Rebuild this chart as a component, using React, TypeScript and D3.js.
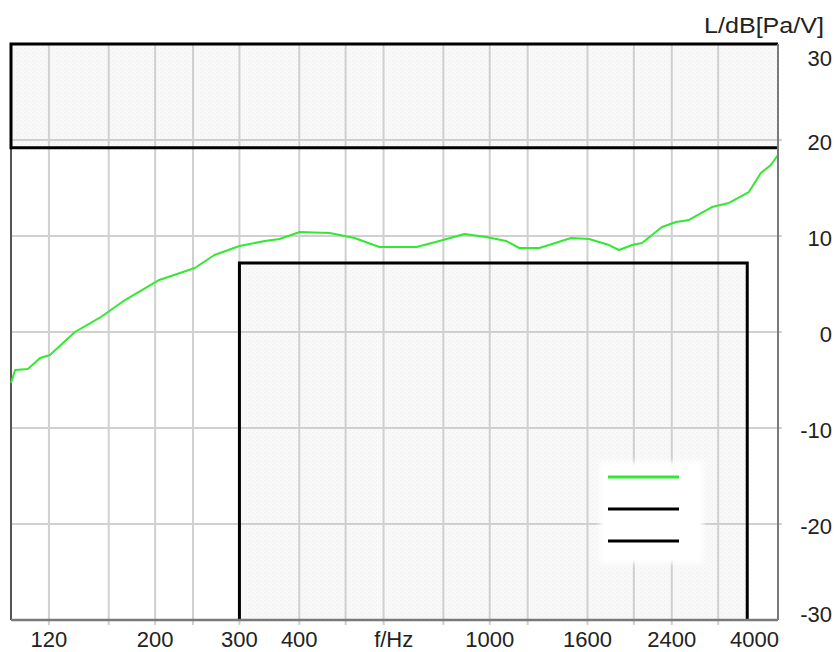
import React from "react";
import * as d3 from "d3";

// ---- data ----
const freqs = [100, 102, 108.5, 115, 120.6, 136, 153, 173, 204, 242, 266, 300, 339, 364, 401, 463, 522, 588, 648, 703, 785, 885, 983, 1082, 1152, 1269, 1479, 1612, 1775, 1862, 1983, 2080, 2289, 2449, 2607, 2911, 3159, 3477, 3683, 3865, 4000];
const levels = [-5.3, -3.96, -3.85, -2.7, -2.4, 0.0, 1.46, 3.33, 5.42, 6.67, 8.02, 8.96, 9.48, 9.69, 10.42, 10.31, 9.79, 8.85, 8.85, 8.85, 9.48, 10.21, 9.9, 9.48, 8.75, 8.75, 9.79, 9.69, 9.06, 8.54, 9.06, 9.27, 10.94, 11.46, 11.67, 13.02, 13.44, 14.58, 16.56, 17.4, 18.44];

const gridFreqs = [120, 160, 200, 240, 300, 400, 500, 600, 800, 1000, 1200, 1600, 2000, 2400, 3000];
const xTickFreqs = [120, 200, 300, 400, 1000, 1600, 2400];
const xTickLabels = ["120", "200", "300", "400", "1000", "1600", "2400"];
const xEndLabel = "4000";
const yTicks = [30, 20, 10, 0, -10, -20, -30];
const yUnit = "L/dB[Pa/V]";
const xUnit = "f/Hz";

// tolerance limits
const upperLimit = 19.2;
const lowerLimit = 7.2;
const lowerLimitFreqs = [300, 3450];

const legendColors = ["#33e833", "#000000", "#000000"];

const W = 836;
const H = 652;
const left = 11;
const right = 778;
const top = 44;
const bottom = 620;

export default function App() {
  const x = d3.scaleLog().domain([100, 4000]).range([left, right]);
  const y = d3.scaleLinear().domain([-30, 30]).range([bottom, top]);
  const line = d3
    .line<number>()
    .x((_, i) => x(freqs[i]))
    .y((d) => y(d))
    .curve(d3.curveLinear);

  const font = "'Liberation Sans', Arial, sans-serif";
  const gridColor = "#d0d0d0";
  const axisColor = "#7a7a7a";

  const lx0 = x(lowerLimitFreqs[0]);
  const lx1 = x(lowerLimitFreqs[1]);
  const ly = y(lowerLimit);
  const uy = y(upperLimit);

  const legX = 600, legY = 462, legW = 103, legH = 101;

  return (
    <div style={{ position: "absolute", left: 0, top: 0 }}>
      <svg width={W} height={H} style={{ display: "block", background: "#fff" }}>
        <defs>
          <pattern id="hatch" width="4" height="4" patternUnits="userSpaceOnUse">
            <rect width="4" height="4" fill="#f9f9f9" />
            <rect x="0" y="0" width="1" height="1" fill="#ededed" />
            <rect x="2" y="2" width="1" height="1" fill="#ededed" />
          </pattern>
          <filter id="soft" x="-20%" y="-20%" width="140%" height="140%">
            <feGaussianBlur stdDeviation="2.5" />
          </filter>
        </defs>
        <rect x={0} y={0} width={W} height={H} fill="#fff" />

        {/* limit area fills */}
        <rect x={left} y={top} width={right - left} height={uy - top} fill="url(#hatch)" />
        <rect x={lx0} y={ly} width={lx1 - lx0} height={bottom - ly} fill="url(#hatch)" />

        {/* grid */}
        {gridFreqs.map((f) => (
          <line key={"gx" + f} x1={x(f)} x2={x(f)} y1={top} y2={bottom + 5} stroke={gridColor} strokeWidth={2} />
        ))}
        {yTicks.filter((v) => v !== 30 && v !== -30).map((v) => (
          <line key={"gy" + v} x1={left} x2={right + 4} y1={y(v)} y2={y(v)} stroke={gridColor} strokeWidth={2} />
        ))}

        {/* legend background */}
        <rect x={legX} y={legY} width={legW} height={legH} fill="#fff" filter="url(#soft)" />

        {/* left frame */}
        <line x1={left} x2={left} y1={uy} y2={bottom} stroke="#555" strokeWidth={2} />

        {/* upper limit box */}
        <path
          d={`M${right},${top} L${left},${top} L${left},${uy} L${right},${uy}`}
          fill="none"
          stroke="#000"
          strokeWidth={3}
        />
        {/* lower limit box */}
        <path
          d={`M${lx0},${bottom} L${lx0},${ly} L${lx1},${ly} L${lx1},${bottom}`}
          fill="none"
          stroke="#000"
          strokeWidth={3}
        />

        {/* curve */}
        <path d={line(levels) || ""} fill="none" stroke="#33e833" strokeWidth={2} strokeLinejoin="round" />

        {/* axes */}
        <line x1={right} x2={right} y1={top} y2={bottom} stroke={axisColor} strokeWidth={2} />
        <line x1={left} x2={right} y1={bottom} y2={bottom} stroke={axisColor} strokeWidth={2.5} />

        {/* legend */}
        {legendColors.map((c, i) => (
          <line key={"lg" + i} x1={608} x2={679} y1={477 + i * 32} y2={477 + i * 32} stroke={c} strokeWidth={3} />
        ))}

        {/* y tick labels */}
        {yTicks.map((v) => {
          const yy = Math.max(58, Math.min(614, y(v) + 2));
          return (
            <text key={"yt" + v} x={832} y={yy} dy="0.35em" textAnchor="end" fontFamily={font} fontSize={22} fill="#222">
              {v}
            </text>
          );
        })}
        <text x={824} y={25} dy="0.35em" textAnchor="end" fontFamily={font} fontSize={22} fill="#222" textLength={120} lengthAdjust="spacingAndGlyphs">
          {yUnit}
        </text>

        {/* x tick labels */}
        {xTickFreqs.map((f, i) => (
          <text key={"xt" + f} x={x(f)} y={647} textAnchor="middle" fontFamily={font} fontSize={22} fill="#222">
            {xTickLabels[i]}
          </text>
        ))}
        <text x={right + 1} y={647} textAnchor="end" fontFamily={font} fontSize={22} fill="#222">
          {xEndLabel}
        </text>
        <text x={x(630)} y={647} textAnchor="middle" fontFamily={font} fontSize={22} fill="#222">
          {xUnit}
        </text>
      </svg>
    </div>
  );
}
